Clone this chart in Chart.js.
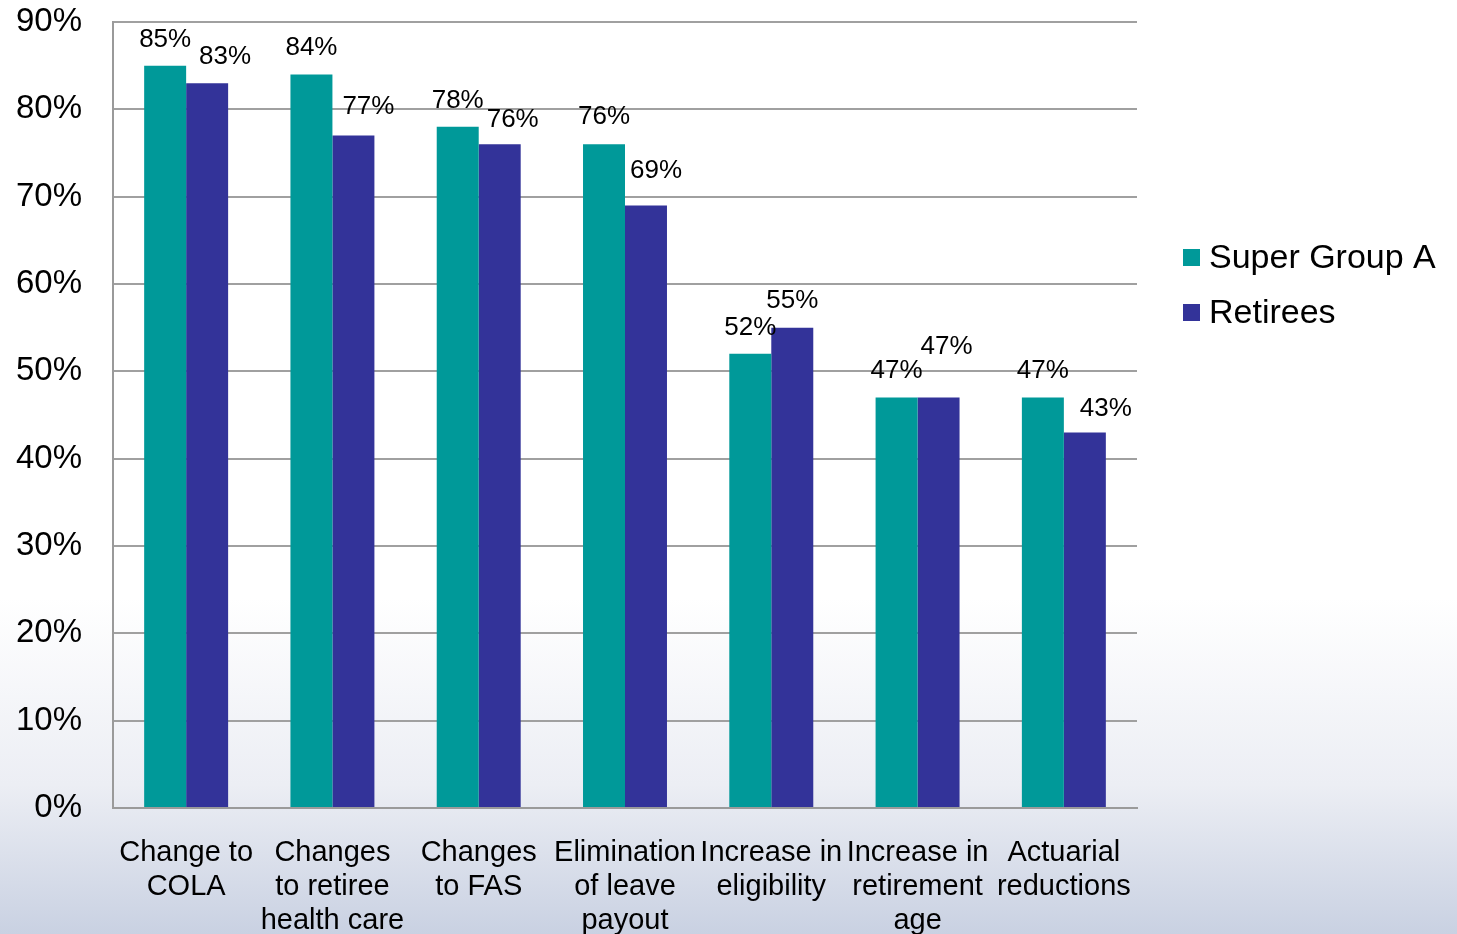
<!DOCTYPE html>
<html>
<head>
<meta charset="utf-8">
<script src="https://cdn.jsdelivr.net/npm/chart.js@4.4.1/dist/chart.umd.min.js"></script>
<style>
  html, body { margin: 0; padding: 0; }
  body {
    width: 1457px; height: 934px; overflow: hidden;
    background: linear-gradient(to bottom, #ffffff 0%, #ffffff 64%, #eceef4 84%, #c9d1e2 100%);
  }
  #wrap { position: relative; width: 1457px; height: 934px; }
</style>
</head>
<body>
<div id="wrap"><canvas id="myChart" width="1457" height="934"></canvas></div>
<script>
const categories = [
    ['Change to', 'COLA'],
    ['Changes', 'to retiree', 'health care'],
    ['Changes', 'to FAS'],
    ['Elimination', 'of leave', 'payout'],
    ['Increase in', 'eligibility'],
    ['Increase in', 'retirement', 'age'],
    ['Actuarial', 'reductions']
];
const superGroupA = [85, 84, 78, 76, 52, 47, 47];
const retirees = [83, 77, 76, 69, 55, 47, 43];
const seriesNames = ['Super Group A', 'Retirees'];
const yTicks = [0, 10, 20, 30, 40, 50, 60, 70, 80, 90];

const teal = '#009999';
const navy = '#333399';
const font = "Arial, 'Liberation Sans', sans-serif";

// nudges for the value labels so they don't collide (dx right, lift above bar top)
const labelShift = [
    [[0,26],[0,27],[0,26],[0,27],[0,26],[0,27],[0,27]],
    [[18,26],[15,29],[13,24],[10,35],[0,27],[8,51],[21,24]]
];

const valueLabels = {
    id: 'valueLabels',
    afterDatasetsDraw(chart) {
        const c = chart.ctx;
        c.save();
        c.font = '26px ' + font;
        c.fillStyle = '#000';
        c.textAlign = 'center';
        c.textBaseline = 'middle';
        chart.data.datasets.forEach(function(ds, d){
            chart.getDatasetMeta(d).data.forEach(function(bar, i){
                const s = labelShift[d][i];
                c.fillText(ds.data[i] + '%', bar.x + s[0], bar.y - s[1]);
            });
        });
        c.restore();
    }
};

const sideLegend = {
    id: 'sideLegend',
    afterDraw(chart) {
        const c = chart.ctx;
        c.save();
        c.font = '34px ' + font;
        c.textBaseline = 'middle';
        c.textAlign = 'left';
        chart.data.datasets.forEach(function(ds, d){
            const y = 258 + d * 55;
            c.fillStyle = ds.backgroundColor;
            c.fillRect(1183, y - 9, 17, 17);
            c.fillStyle = '#000';
            c.fillText(ds.label, 1209, y + 1);
        });
        c.restore();
    }
};

let ctx = document.getElementById('myChart').getContext('2d');
let myChart = new Chart(ctx, {
    type: 'bar',
    data: {
        labels: categories,
        datasets: [
            { label: seriesNames[0], data: superGroupA, backgroundColor: teal },
            { label: seriesNames[1], data: retirees, backgroundColor: navy }
        ]
    },
    options: {
        responsive: false,
        animation: false,
        categoryPercentage: 0.574,
        barPercentage: 1,
        layout: { padding: { top: 22, right: 320, left: 0, bottom: 0 } },
        plugins: {
            legend: { display: false },
            tooltip: { enabled: false }
        },
        scales: {
            x: {
                grid: { display: false },
                border: { color: '#9a9a9a', width: 2 },
                ticks: {
                    color: '#000',
                    font: { family: font, size: 29, lineHeight: 1.17 },
                    padding: 20,
                    maxRotation: 0,
                    autoSkip: false
                },
                afterFit: function(scale){ scale.height = 126; }
            },
            y: {
                min: 0,
                max: 90,
                afterBuildTicks: function(scale){
                    scale.ticks = yTicks.map(function(v){ return { value: v }; });
                },
                grid: { color: '#a0a0a0', lineWidth: 2, drawTicks: false },
                border: { color: '#9a9a9a', width: 2 },
                ticks: {
                    color: '#000',
                    font: { family: font, size: 33 },
                    padding: 31,
                    callback: function(v){ return v + '%'; }
                },
                afterFit: function(scale){
                    scale.width = 113;
                    scale.paddingTop = 0;
                    scale.paddingBottom = 0;
                }
            }
        }
    },
    plugins: [valueLabels, sideLegend]
});
</script>
</body>
</html>
